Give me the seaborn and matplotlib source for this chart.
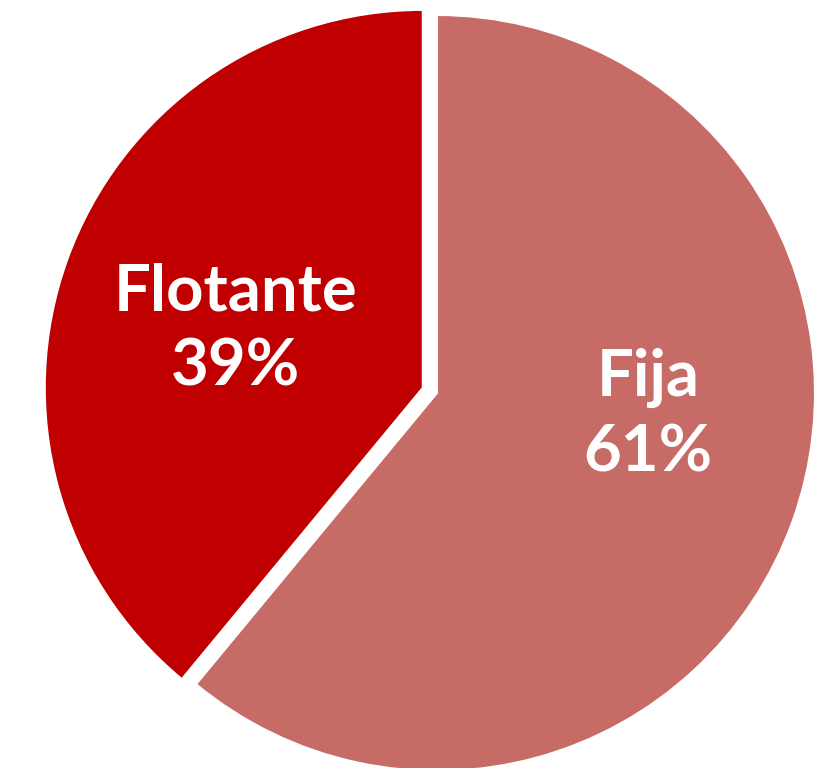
import matplotlib
matplotlib.use("Agg")
import matplotlib.pyplot as plt
import seaborn as sns

# data
labels = ["Fija", "Flotante"]
shares = [61, 39]
colors = ["#C76B67", "#C00000"]
explode = [0, 0.04]

sns.set_theme(style="white")
plt.rcParams['font.family'] = ['Lato', 'DejaVu Sans']

fig = plt.figure(figsize=(8.28, 7.68), dpi=100)
ax = fig.add_axes([0, 0, 1, 1])
wedges, _ = ax.pie(shares, colors=colors, startangle=90, counterclock=False,
                   explode=explode, radius=1,
                   wedgeprops=dict(edgecolor="white", linewidth=1.5))

# labels
label_pos = {"Fija": (0.558, -0.058), "Flotante": (-0.534, 0.168)}
for lab, val in zip(labels, shares):
    x, y = label_pos[lab]
    ax.text(x, y, f"{lab}\n{val}%", ha="center", va="center", color="white",
            fontsize=47, fontweight="bold", linespacing=1.33)

ax.set_xlim(-437 / 378, (828 - 437) / 378)
ax.set_ylim(-375 / 378, 393 / 378)
ax.set_aspect("auto")
ax.axis("off")

fig.savefig("out.png", dpi=100, facecolor="white")
